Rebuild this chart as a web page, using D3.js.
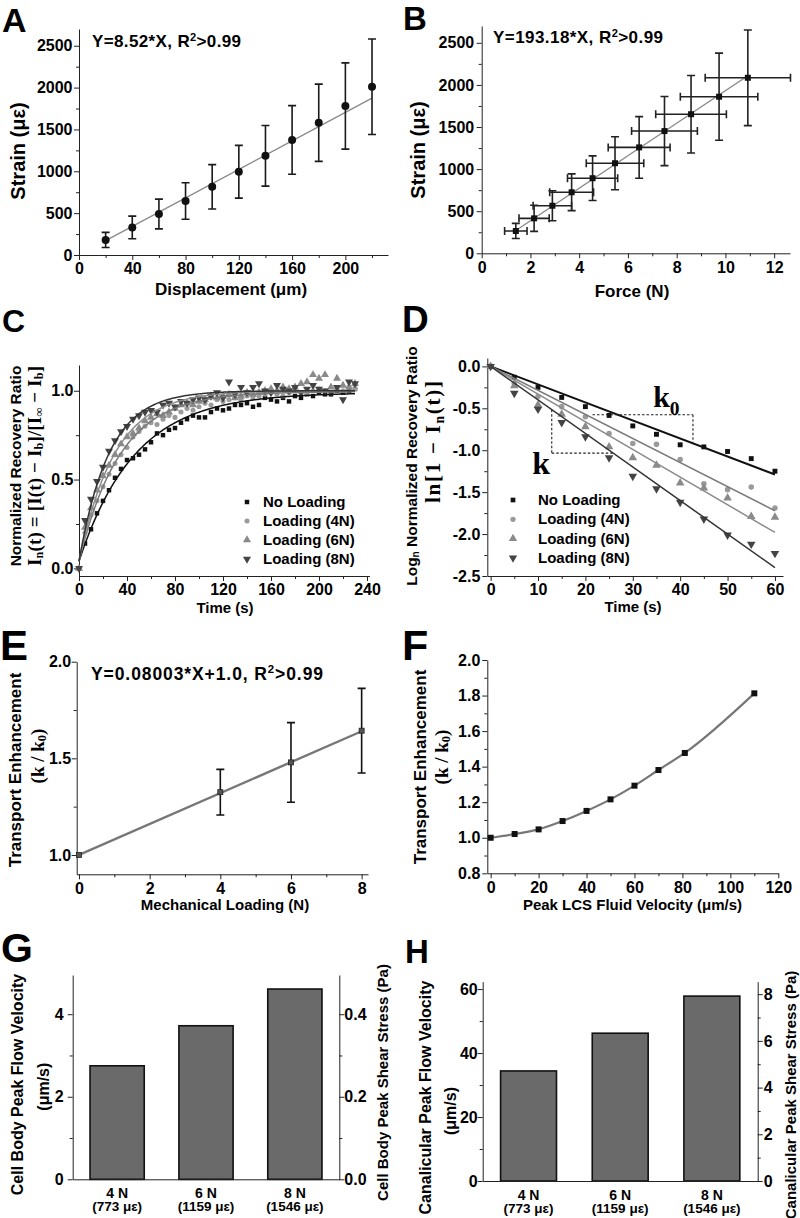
<!DOCTYPE html>
<html><head><meta charset="utf-8">
<script src="https://cdn.jsdelivr.net/npm/d3@7"></script>
<style>body{margin:0;background:#fff}svg{display:block}</style>
</head><body><script>
// ---------- DATA ----------
const aDisp = [20,40,60,80,100,120,140,160,180,200,220];
const aStrain = [180,330,490,645,815,995,1185,1375,1580,1780,2010];
const aErr = [90,135,178,218,265,315,362,410,462,515,570];
const aSlope = 8.52;

const bForce = [1.40,2.15,2.90,3.69,4.55,5.47,6.46,7.50,8.59,9.74,10.92];
const bStrain = [265,415,565,725,892,1070,1258,1452,1652,1860,2085];
const bForceErr = [0.46,0.62,0.79,0.90,1.03,1.18,1.27,1.35,1.45,1.59,1.75];
const bStrainErr = [90,155,178,218,265,315,366,410,460,518,568];
const bSlope = 193.18;

const seriesNames = ["No Loading","Loading (4N)","Loading (6N)","Loading (8N)"];
const cTime = [0,5,10,15,20,25,30,35,40,45,50,55,60,65,70,75,80,85,90,95,100,105,110,115,120,125,130,135,140,145,150,155,160,165,170,175,180,185,190,195,200,205,210,215,220,225,230];
const cNoLoad = [0.00,0.14,0.22,0.31,0.38,0.44,0.51,0.56,0.61,0.62,0.64,0.67,0.71,0.76,0.75,0.78,0.79,0.82,0.84,0.86,0.85,0.85,0.88,0.90,0.89,0.90,0.92,0.92,0.93,0.91,0.92,0.96,0.95,0.94,0.96,0.94,0.97,0.96,0.98,0.97,0.99,0.98,0.98,1.00,0.99,1.00,1.01];
const c4N = [0.00,0.20,0.30,0.38,0.46,0.53,0.59,0.64,0.68,0.74,0.77,0.80,0.82,0.81,0.84,0.86,0.85,0.88,0.90,0.89,0.91,0.93,0.92,0.95,0.94,0.95,0.96,0.95,0.97,0.96,0.97,0.98,0.99,0.98,0.97,0.99,1.00,0.99,0.98,1.00,1.01,1.00,0.99,1.01,1.00,1.02,1.01];
const c6N = [0.00,0.23,0.34,0.44,0.52,0.58,0.64,0.70,0.74,0.76,0.79,0.83,0.85,0.87,0.86,0.88,0.90,0.92,0.93,0.92,0.94,0.95,0.97,0.96,0.97,0.98,0.96,0.97,0.99,0.98,0.99,1.00,1.01,1.00,1.02,1.01,1.02,1.04,1.05,1.09,1.07,1.09,1.02,1.07,1.03,1.02,1.04];
const c8N = [0.00,0.27,0.39,0.49,0.57,0.66,0.72,0.77,0.80,0.84,0.86,0.88,0.89,0.88,0.92,0.93,0.91,0.94,0.93,0.95,0.96,0.95,0.97,0.99,0.96,1.05,0.98,1.02,0.99,1.02,1.04,1.00,0.99,1.03,1.01,1.00,1.02,0.99,1.01,1.03,1.01,1.00,0.99,1.02,0.95,1.05,1.04];
const cFitK = [0.0215,0.0290,0.0335,0.0400];
const cFitTop = [0.99,0.995,1.0,1.0];
const cFitStart = 0.04;

const dTime = [0,5,10,15,20,25,30,35,40,45,50,55,60];
const dNoLoad = [0,-0.13,-0.25,-0.37,-0.48,-0.585,-0.71,-0.81,-0.935,-0.96,-1.015,-1.10,-1.25];
const d4N = [0,-0.20,-0.36,-0.48,-0.60,-0.80,-0.92,-0.93,-1.11,-1.40,-1.47,-1.44,-1.69];
const d6N = [0,-0.23,-0.46,-0.57,-0.72,-0.96,-1.09,-1.18,-1.39,-1.45,-1.57,-1.79,-1.80];
const d8N = [0,-0.32,-0.51,-0.67,-0.84,-1.09,-1.31,-1.46,-1.62,-1.82,-2.01,-2.12,-2.23];
const dSlope = [-0.0215,-0.0287,-0.0330,-0.0400];
// slope guide brackets [t0, y0, t1, y1] in data units
const dK0Bracket = [[21.5,-0.577,42.7,-0.577],[42.7,-0.577,42.7,-0.908]];
const dKBracket = [[12.9,-0.518,12.9,-1.035],[12.9,-1.035,25.9,-1.035]];

const eLoad = [0,4,6,8];
const eRatio = [1.0,1.325,1.479,1.643];
const eErr = [0,0.118,0.206,0.219];
const eSlope = 0.08003, eIntercept = 1.0;

const fVel = [0,10,20,30,40,50,60,70,81,110];
const fRatio = [1.0,1.021,1.047,1.094,1.151,1.216,1.293,1.381,1.477,1.8125];

const barCats = ["4 N","6 N","8 N"];
const barStrain = ["(773 με)","(1159 με)","(1546 με)"];
const gVel = [2.75,3.72,4.61];
const hVel = [34.4,46.2,57.8];

// ---------- HELPERS ----------
const SANS = '"Liberation Sans", Arial, Helvetica, sans-serif';
const SERIF = '"Liberation Serif", "Times New Roman", serif';
const svg = d3.select('body').append('svg').attr('width',800).attr('height',1218);
svg.append('rect').attr('width',800).attr('height',1218).attr('fill','#fff');

function styleAxis(g, fs){
  g.selectAll('.domain, .tick line').attr('stroke','#222').attr('stroke-width',1);
  g.selectAll('.tick text').attr('font-size',fs).attr('font-family',SANS).attr('font-weight','bold').attr('fill','#000');
}
function setupAxes(g, x, y, o){
  const b = y.range()[0], l = x.range()[0], fs = o.fs || 16;
  const fx = o.xf || (d=>String(d)), fy = o.yf || (d=>String(d));
  const xa = g.append('g').attr('transform',`translate(0,${b})`)
    .call(d3.axisBottom(x).tickValues(o.xt).tickSize(5).tickSizeOuter(0).tickPadding(o.xpad ?? 3).tickFormat(fx));
  if (o.xm){ const m = g.append('g').attr('transform',`translate(0,${b})`)
    .call(d3.axisBottom(x).tickValues(o.xm).tickSize(3).tickFormat(()=>'')); m.select('.domain').remove(); styleAxis(m,fs); }
  const ya = g.append('g').attr('transform',`translate(${l},0)`)
    .call(d3.axisLeft(y).tickValues(o.yt).tickSize(5).tickSizeOuter(0).tickPadding(o.ypad ?? 2).tickFormat(fy));
  if (o.ym){ const m = g.append('g').attr('transform',`translate(${l},0)`)
    .call(d3.axisLeft(y).tickValues(o.ym).tickSize(3).tickFormat(()=>'')); m.select('.domain').remove(); styleAxis(m,fs); }
  styleAxis(xa,fs); styleAxis(ya,fs);
}
function rich(t, parts, fs){
  let shift = 0;
  parts.forEach(p=>{
    const s = p[0], kind = p[1] || 'n';
    const target = kind==='sub' ? fs*0.28 : kind==='sup' ? -fs*0.38 : 0;
    const ts = t.append('tspan').text(s).attr('dy', target - shift);
    if (kind !== 'n') ts.attr('font-size', fs*0.65);
    shift = target;
  });
}
function txt(x, y, parts, fs, opt={}){
  const t = svg.append('text').attr('x',x).attr('y',y).attr('font-size',fs)
    .attr('font-family',opt.family||SANS).attr('font-weight','bold').attr('fill','#000')
    .attr('text-anchor',opt.anchor||'start');
  rich(t, typeof parts==='string' ? [[parts]] : parts, fs);
  if (opt.len) t.attr('textLength',opt.len).attr('lengthAdjust','spacing');
  return t;
}
function vtitle(cx, cy, parts, fs, opt={}){
  const t = svg.append('text').attr('transform',`translate(${cx},${cy}) rotate(${opt.rot ?? -90})`)
    .attr('text-anchor','middle').attr('dominant-baseline','central')
    .attr('font-size',fs).attr('font-family',opt.family||SANS).attr('font-weight','bold').attr('fill','#000');
  rich(t, typeof parts==='string' ? [[parts]] : parts, fs);
  if (opt.len) t.attr('textLength',opt.len).attr('lengthAdjust','spacing');
  return t;
}
function letter(x, y, s, fs){ txt(x, y, s, fs); }
function vbar(g, x, ylo, yhi, cap, color, w){
  g.append('path').attr('d',`M${x-cap},${ylo}H${x+cap}M${x},${ylo}V${yhi}M${x-cap},${yhi}H${x+cap}`)
    .attr('stroke',color).attr('stroke-width',w).attr('fill','none');
}
function hbar(g, y, xlo, xhi, cap, color, w){
  g.append('path').attr('d',`M${xlo},${y-cap}V${y+cap}M${xlo},${y}H${xhi}M${xhi},${y-cap}V${y+cap}`)
    .attr('stroke',color).attr('stroke-width',w).attr('fill','none');
}
const symTypes = [d3.symbolSquare, d3.symbolCircle, d3.symbolTriangle, d3.symbolTriangle];
const symRot = [0,0,0,180];
const symFill = ['#111','#9a9a9a','#8a8a8a','#444'];
const lineCol = ['#111','#7a7a7a','#8c8c8c','#333'];
function sym(g, i, x, y, size){
  g.append('path').attr('d', d3.symbol().type(symTypes[i]).size(size)())
    .attr('transform',`translate(${x},${y}) rotate(${symRot[i]})`).attr('fill',symFill[i]);
}

// ---------- PANEL A ----------
{
  const x = d3.scaleLinear().domain([0,232]).range([79,388]);
  const y = d3.scaleLinear().domain([0,2700]).range([255,29]);
  const g = svg.append('g');
  setupAxes(g,x,y,{xt:[0,40,80,120,160,200], xm:[20,60,100,140,180,220], yt:[0,500,1000,1500,2000,2500], ym:[250,750,1250,1750,2250], ypad:1.5});
  const n = aDisp.length-1;
  g.append('line').attr('x1',x(aDisp[0])).attr('y1',y(aSlope*aDisp[0])).attr('x2',x(aDisp[n])).attr('y2',y(aSlope*aDisp[n]))
    .attr('stroke','#8a8a8a').attr('stroke-width',1.4);
  aDisp.forEach((d,i)=> vbar(g, x(d), y(aStrain[i]-aErr[i]), y(aStrain[i]+aErr[i]), 4, '#1a1a1a', 1.6));
  g.selectAll('circle').data(aDisp).join('circle').attr('cx',d=>x(d)).attr('cy',(d,i)=>y(aStrain[i])).attr('r',4).attr('fill','#111');
  txt(92,47,[["Y=8.52*X, R"],["2",'sup'],[">0.99"]],17,{len:149});
  vtitle(18,151,"Strain (με)",20);
  txt(231,295,"Displacement (μm)",17,{anchor:'middle'});
  letter(2,32,"A",34);
}
// ---------- PANEL B ----------
{
  const x = d3.scaleLinear().domain([0,12.65]).range([481.7,790]);
  const y = d3.scaleLinear().domain([0,2700]).range([253.3,26]);
  const g = svg.append('g');
  setupAxes(g,x,y,{xt:[0,2,4,6,8,10,12], xm:[1,3,5,7,9,11], yt:[0,500,1000,1500,2000,2500], ym:[250,750,1250,1750,2250], ypad:2.5});
  const n = bForce.length-1;
  g.append('line').attr('x1',x(bForce[0])).attr('y1',y(bSlope*bForce[0])).attr('x2',x(bForce[n])).attr('y2',y(bSlope*bForce[n]))
    .attr('stroke','#8a8a8a').attr('stroke-width',1.4);
  bForce.forEach((d,i)=>{
    vbar(g, x(d), y(bStrain[i]-bStrainErr[i]), y(bStrain[i]+bStrainErr[i]), 4, '#222', 1.6);
    hbar(g, y(bStrain[i]), x(d-bForceErr[i]), x(d+bForceErr[i]), 4, '#222', 1.6);
  });
  bForce.forEach((d,i)=> sym(g,0,x(d),y(bStrain[i]),36));
  txt(493,43,[["Y=193.18*X, R"],["2",'sup'],[">0.99"]],17,{len:170});
  vtitle(418,150,"Strain (με)",20);
  txt(632,297,"Force (N)",17,{anchor:'middle'});
  letter(403,30,"B",33);
}
// ---------- PANEL C ----------
{
  const x = d3.scaleLinear().domain([0,242]).range([79,369.4]);
  const y = d3.scaleLinear().domain([-0.043,1.145]).range([576,365]);
  const g = svg.append('g');
  setupAxes(g,x,y,{xt:[0,40,80,120,160,200,240], xm:[20,60,100,140,180,220], yt:[0,0.5,1.0], ym:[0.25,0.75], yf:d=>d.toFixed(1), ypad:0.5});
  const cSeries = [cNoLoad,c4N,c6N,c8N];
  const sizes = [20,20,28,28];
  cSeries.forEach((s,i)=> cTime.forEach((t,j)=> sym(g,i,x(t),y(s[j]),sizes[i])));
  const line = d3.line().x(d=>x(d[0])).y(d=>y(d[1]));
  const tt = d3.range(0,231,1);
  cFitK.forEach((k,i)=>{
    const pts = tt.map(t=>[t, cFitTop[i]-(cFitTop[i]-cFitStart)*Math.exp(-k*t)]);
    g.append('path').attr('d',line(pts)).attr('fill','none').attr('stroke',lineCol[i]).attr('stroke-width',1.5);
  });
  seriesNames.forEach((s,i)=>{
    sym(svg,i,247,502+19*i,i<2?20:28);
    txt(263,507+19*i,s,15);
  });
  vtitle(15,466,"Normalized Recovery Ratio",15.5);
  vtitle(34,466,[["I"],["n",'sub'],["(t) = [I(t) − I"],["b",'sub'],["]/[I"],["∞",'sub'],[" − I"],["b",'sub'],["]"]],19,{family:SERIF,len:200});
  txt(225,613,"Time (s)",15,{anchor:'middle'});
  letter(2,331.7,"C",32);
}
// ---------- PANEL D ----------
{
  const x = d3.scaleLinear().domain([-0.7,61.7]).range([487.3,783]);
  const y = d3.scaleLinear().domain([-2.5,0.1]).range([576,358]);
  const g = svg.append('g');
  setupAxes(g,x,y,{xt:[0,10,20,30,40,50,60], xm:[5,15,25,35,45,55], yt:[0,-0.5,-1.0,-1.5,-2.0,-2.5], ym:[-0.25,-0.75,-1.25,-1.75,-2.25], yf:d=>d.toFixed(1), ypad:2});
  const dSeries = [dNoLoad,d4N,d6N,d8N];
  dSeries.forEach((s,i)=> dTime.forEach((t,j)=> sym(g,i,x(t),y(s[j]),i<2?24:32)));
  const tEnd = dTime[dTime.length-1];
  dSlope.forEach((k,i)=>{
    g.append('line').attr('x1',x(0)).attr('y1',y(0)).attr('x2',x(tEnd)).attr('y2',y(k*tEnd))
      .attr('stroke',lineCol[i]).attr('stroke-width',i===0?2:1.5);
  });
  [...dK0Bracket,...dKBracket].forEach(s=>{
    g.append('line').attr('x1',x(s[0])).attr('y1',y(s[1])).attr('x2',x(s[2])).attr('y2',y(s[3]))
      .attr('stroke','#222').attr('stroke-width',1.1).attr('stroke-dasharray','2.5,2');
  });
  txt(x(34.3),y(-0.48),[["k"],["0",'sub']],30,{family:SERIF});
  txt(x(8.8),y(-1.280),"k",32,{family:SERIF});
  seriesNames.forEach((s,i)=>{
    sym(svg,i,513,500+19.3*i,i<2?22:30);
    txt(538,505+19.3*i,s,15);
  });
  vtitle(411,466,[["Log"],["n",'sub'],[" Normalized Recovery Ratio"]],15.5);
  vtitle(433,442,[["ln[1 − I"],["n",'sub'],["(t)]"]],21,{family:SERIF,len:122});
  txt(633,612,"Time (s)",15,{anchor:'middle'});
  letter(402,331.7,"D",37);
}
// ---------- PANEL E ----------
{
  const x = d3.scaleLinear().domain([-0.065,8.18]).range([76.7,368]);
  const y = d3.scaleLinear().domain([0.9,2.0]).range([874.3,661.7]);
  const g = svg.append('g');
  setupAxes(g,x,y,{xt:[0,2,4,6,8], xm:[1,3,5,7], yt:[1.0,1.5,2.0], ym:[1.25,1.75], yf:d=>d.toFixed(1), ypad:0.5});
  const n = eLoad.length-1;
  g.append('line').attr('x1',x(eLoad[0])).attr('y1',y(eIntercept+eSlope*eLoad[0])).attr('x2',x(eLoad[n])).attr('y2',y(eIntercept+eSlope*eLoad[n]))
    .attr('stroke','#777').attr('stroke-width',2.4);
  eLoad.forEach((d,i)=>{ if (eErr[i]>0) vbar(g,x(d),y(eRatio[i]-eErr[i]),y(eRatio[i]+eErr[i]),4,'#111',1.6); });
  eLoad.forEach((d,i)=> g.append('rect').attr('x',x(d)-2.5).attr('y',y(eRatio[i])-2.5).attr('width',5).attr('height',5).attr('fill','#555').attr('stroke','#222').attr('stroke-width',0.8));
  txt(91,680,[["Y=0.08003*X+1.0, R"],["2",'sup'],[">0.99"]],17.5,{len:232});
  vtitle(15,770,"Transport Enhancement",17);
  vtitle(37,756,[["(k / k"],["0",'sub'],[")"]],19,{family:SERIF});
  txt(225,910,"Mechanical Loading (N)",15,{anchor:'middle'});
  letter(0,660,"E",42);
}
// ---------- PANEL F ----------
{
  const x = d3.scaleLinear().domain([-1.4,120]).range([487.3,778.3]);
  const y = d3.scaleLinear().domain([0.8,2.0]).range([873.3,660]);
  const g = svg.append('g');
  setupAxes(g,x,y,{xt:[0,20,40,60,80,100,120], xm:[10,30,50,70,90,110], yt:[0.8,1.0,1.2,1.4,1.6,1.8,2.0], ym:[0.9,1.1,1.3,1.5,1.7,1.9], yf:d=>d.toFixed(1), ypad:2});
  const line = d3.line().x((d,i)=>x(fVel[i])).y(d=>y(d)).curve(d3.curveMonotoneX);
  g.append('path').attr('d',line(fRatio)).attr('fill','none').attr('stroke','#777').attr('stroke-width',2.2);
  fVel.forEach((d,i)=> g.append('rect').attr('x',x(d)-3).attr('y',y(fRatio[i])-3).attr('width',6).attr('height',6).attr('fill','#111'));
  vtitle(420,767,"Transport Enhancement",17);
  vtitle(441,757,[["(k / k"],["0",'sub'],[")"]],19,{family:SERIF});
  txt(632.5,910,"Peak LCS Fluid Velocity (μm/s)",15,{anchor:'middle'});
  letter(402,660,"F",43);
}
// ---------- PANELS G & H ----------
function barPanel(o){
  const x = d3.scaleBand().domain(barCats).range([o.l,o.r]).paddingInner(0.39).paddingOuter(0.195);
  const y = d3.scaleLinear().domain([0,o.ymax]).range([o.b,o.t]);
  const yr = d3.scaleLinear().domain([0,o.rmax]).range([o.b,o.t]);
  const g = svg.append('g');
  g.selectAll('rect').data(o.vals).join('rect')
    .attr('x',(d,i)=>x(barCats[i])).attr('y',d=>y(d)).attr('width',x.bandwidth()).attr('height',d=>y(0)-y(d))
    .attr('fill','#6a6a6a').attr('stroke','#111').attr('stroke-width',1.6);
  const la = g.append('g').attr('transform',`translate(${o.l},0)`)
    .call(d3.axisLeft(y).tickValues(o.yt).tickSize(5).tickSizeOuter(0).tickPadding(o.lpad).tickFormat(d=>String(d)));
  const lm = g.append('g').attr('transform',`translate(${o.l},0)`)
    .call(d3.axisLeft(y).tickValues(o.ym).tickSize(3).tickFormat(()=>'')); lm.select('.domain').remove();
  const ra = g.append('g').attr('transform',`translate(${o.r},0)`)
    .call(d3.axisRight(yr).tickValues(o.rt).tickSize(5).tickSizeOuter(0).tickPadding(o.rpad).tickFormat(o.rf));
  const rm = g.append('g').attr('transform',`translate(${o.r},0)`)
    .call(d3.axisRight(yr).tickValues(o.rm).tickSize(3).tickFormat(()=>'')); rm.select('.domain').remove();
  const ba = g.append('g').attr('transform',`translate(0,${o.b})`)
    .call(d3.axisBottom(x).tickSize(0).tickSizeOuter(0).tickFormat(()=>''));
  [la,lm,ra,rm,ba].forEach(a=>styleAxis(a,16));
  barCats.forEach((c,i)=>{
    const cx = x(c)+x.bandwidth()/2;
    txt(cx,o.b+18.5,c,14,{anchor:'middle'});
    txt(cx,o.b+32,barStrain[i],13.5,{anchor:'middle'});
  });
}
barPanel({l:72.7,r:339.3,t:975,b:1179.3,ymax:4.95,rmax:0.495,vals:gVel,yt:[0,2,4],ym:[1,3],rt:[0,0.2,0.4],rm:[0.1,0.3],rf:d=>d.toFixed(1),lpad:4,rpad:0});
vtitle(17,1084.5,"Cell Body Peak Flow Velocity",16);
vtitle(43,1086.7,"(μm/s)",16);
vtitle(382,1082.5,"Cell Body Peak Shear Stress (Pa)",15);
letter(1,961.7,"G",41);

barPanel({l:482.7,r:757.7,t:981.7,b:1181,ymax:62.3,rmax:8.534,vals:hVel,yt:[0,20,40,60],ym:[10,30,50],rt:[0,2,4,6,8],rm:[1,3,5,7],rf:d=>String(d),lpad:0,rpad:1});
vtitle(425,1097.5,"Canalicular Peak Flow Velocity",16);
vtitle(450,1111,"(μm/s)",16);
vtitle(790,1095,"Canalicular Peak Shear Stress (Pa)",15);
letter(405,963.3,"H",33);
</script></body></html>
